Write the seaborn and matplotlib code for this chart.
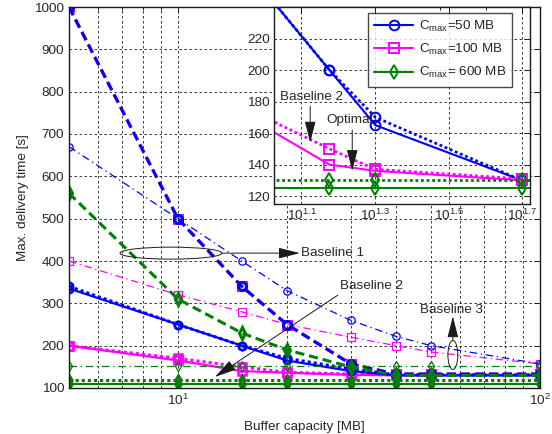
import numpy as np
import pandas as pd
import matplotlib
matplotlib.use("Agg")
import matplotlib.pyplot as plt
import seaborn as sns
from matplotlib.patches import Ellipse
from matplotlib.lines import Line2D
from matplotlib.ticker import FixedLocator, NullFormatter, LogLocator, FixedFormatter, MultipleLocator

# ---------------- data ----------------
buffer_mb = [5, 10, 15, 20, 30, 40, 50, 100]

blue_opt = [335, 250, 200, 165, 140, 130, 130, 130]
blue_b2 = [340, 250, 200, 170, 145, 131, 131, 131]
blue_b1 = [1000, 500, 340, 250, 157, 133, 133, 133]
blue_b3 = [670, 500, 400, 330, 260, 222, 200, 157]

pink_opt = [200, 165, 140, 136, 131, 130, 130, 130]
pink_b2 = [200, 170, 150, 137, 133, 131, 131, 131]
pink_b1 = [1000, 500, 340, 250, 157, 133, 133, 133]
pink_b3 = [400, 320, 280, 250, 220, 200, 185, 157]

green_opt = [110, 110, 110, 110, 110, 110, 110, 110]
green_b2 = [119, 119, 119, 119, 119, 119, 119, 119]
green_b1 = [560, 310, 230, 190, 150, 130, 130, 130]
green_b3 = [152, 152, 152, 152, 152, 152, 152, 152]

# zoomed inset
inset_mb = [10, 15, 20, 50, 100]
in_blue_opt = [250, 200, 165, 130, 130]
in_blue_b2 = [250, 200, 170, 130, 130]
in_pink_opt = [164, 140, 136, 130, 130]
in_pink_b2 = [170, 150, 137, 131, 131]
in_green_opt = [125, 125, 125, 125, 125]
in_green_b2 = [130, 130, 130, 130, 130]

legend_labels = ["C$_{\\rm max}$=50 MB", "C$_{\\rm max}$=100 MB", "C$_{\\rm max}$= 600 MB"]
inset_ticks = [1.1, 1.3, 1.5, 1.7]
inset_tick_labels = ["$10^{1.1}$", "$10^{1.3}$", "$10^{1.5}$", "$10^{1.7}$"]

# ---------------- style ----------------
sns.set_theme(style="white")
plt.rcParams["font.family"] = ["Liberation Sans", "DejaVu Sans"]
plt.rcParams["mathtext.fontset"] = "custom"
plt.rcParams["mathtext.rm"] = "Liberation Sans"
plt.rcParams["mathtext.default"] = "regular"
TXT = "#262626"

BLUE = "#0000FF"
PINK = "#FF00FF"
GREEN = "#008000"

fig = plt.figure(figsize=(5.52, 4.34), dpi=100)
ax = fig.add_axes([69 / 552, 1 - 388 / 434, 471 / 552, 381 / 434])


def draw(axis, x, y, color, ls, lw, marker, ms, mew, z=2):
    sns.lineplot(x=x, y=y, ax=axis, color=color, linestyle=ls, linewidth=lw,
                 marker=marker, markersize=ms, markerfacecolor="none",
                 markeredgecolor=color, markeredgewidth=mew, errorbar=None,
                 legend=False, zorder=z, sort=False)


series = [
    (PINK, "s", pink_opt, pink_b2, pink_b1, pink_b3),
    (BLUE, "o", blue_opt, blue_b2, blue_b1, blue_b3),
    (GREEN, "d", green_opt, green_b2, green_b1, green_b3),
]
for color, mk, opt, b2, b1, b3 in series:
    draw(ax, buffer_mb, b3, color, (0, (6, 3, 1, 3)), 0.9, mk, 5.3, 0.9)
    draw(ax, buffer_mb, b1, color, (0, (3, 1.6)), 2.2, mk, 5.8, 2.2)
    draw(ax, buffer_mb, b2, color, (0, (1, 1)), 2.2, mk, 5.3, 1.8)
    draw(ax, buffer_mb, opt, color, "-", 1.6, mk, 5.3, 1.8)

ax.set_xscale("log")
ax.set_xlim(5, 100)
ax.set_ylim(100, 1000)
ax.yaxis.set_major_locator(MultipleLocator(100))
ax.xaxis.set_major_locator(LogLocator(base=10))
ax.xaxis.set_minor_locator(LogLocator(base=10, subs=np.arange(2, 10)))
ax.xaxis.set_minor_formatter(NullFormatter())
ax.grid(True, which="both", axis="x", color="k", linestyle=(0, (3, 3)), linewidth=0.6)
ax.grid(True, which="major", axis="y", color="k", linestyle=(0, (3, 3)), linewidth=0.6)
ax.tick_params(which="both", direction="in", top=True, right=True, labelsize=9.7,
               colors="k", labelcolor=TXT, length=4, width=0.7)
ax.tick_params(which="minor", length=2.5)
for s in ax.spines.values():
    s.set_color("k")
    s.set_linewidth(1.0)
ax.set_xlabel("Buffer capacity [MB]", fontsize=9.7, color=TXT, labelpad=9)
ax.set_ylabel("Max. delivery time [s]", fontsize=9.7, color=TXT, labelpad=4)

# annotations (axes fractions)
ax.add_patch(Ellipse((0.2166, 0.354), 0.2166, 0.0315, transform=ax.transAxes,
                     fill=False, edgecolor="k", linewidth=0.7, zorder=5))
ax.annotate("", xy=(0.490, 0.354), xytext=(0.325, 0.354), xycoords="axes fraction",
            arrowprops=dict(arrowstyle="-|>,head_length=1.1,head_width=0.28", color="k",
                            lw=0.7, shrinkA=0, shrinkB=0), zorder=5)
ax.text(0.492, 0.354, "Baseline 1", transform=ax.transAxes, ha="left", va="center",
        fontsize=9.7, color=TXT, zorder=6)

ax.annotate("", xy=(0.310, 0.029), xytext=(0.571, 0.244), xycoords="axes fraction",
            arrowprops=dict(arrowstyle="-|>,head_length=1.1,head_width=0.28", color="k",
                            lw=0.7, shrinkA=0, shrinkB=0), zorder=5)
ax.text(0.575, 0.268, "Baseline 2", transform=ax.transAxes, ha="left", va="center",
        fontsize=9.7, color=TXT, zorder=6)

ax.add_patch(Ellipse((0.815, 0.0866), 0.021, 0.076, transform=ax.transAxes,
                     fill=False, edgecolor="k", linewidth=0.7, zorder=5))
ax.annotate("", xy=(0.815, 0.188), xytext=(0.815, 0.125), xycoords="axes fraction",
            arrowprops=dict(arrowstyle="-|>,head_length=1.1,head_width=0.28", color="k",
                            lw=0.7, shrinkA=0, shrinkB=0), zorder=5)
ax.text(0.813, 0.205, "Baseline 3", transform=ax.transAxes, ha="center", va="center",
        fontsize=9.7, color=TXT, zorder=6)

# ---------------- inset ----------------
axi = fig.add_axes([274 / 552, 1 - 204 / 434, 256 / 552, 197 / 434])
axi.set_facecolor("white")
inset_series = [
    (BLUE, "o", in_blue_opt, in_blue_b2),
    (PINK, "s", in_pink_opt, in_pink_b2),
    (GREEN, "d", in_green_opt, in_green_b2),
]
for color, mk, opt, b2 in inset_series:
    draw(axi, inset_mb, b2, color, (0, (1, 1)), 2.0, mk, 7, 1.4)
    draw(axi, inset_mb, opt, color, "-", 1.5, mk, 7, 1.4)

axi.set_xscale("log")
axi.set_xlim(10 ** 1.0255, 10 ** 1.721)
axi.set_ylim(115, 240)
axi.xaxis.set_major_locator(FixedLocator([10 ** t for t in inset_ticks]))
axi.xaxis.set_major_formatter(FixedFormatter(inset_tick_labels))
axi.xaxis.set_minor_locator(LogLocator(base=10, subs=np.arange(2, 10)))
axi.xaxis.set_minor_formatter(NullFormatter())
axi.yaxis.set_major_locator(FixedLocator([120, 140, 160, 180, 200, 220]))
axi.grid(True, which="major", color="k", linestyle=(0, (3, 3)), linewidth=0.6)
axi.tick_params(which="both", direction="in", top=True, right=True, labelsize=9.7,
                colors="k", labelcolor=TXT, length=4, width=0.7, pad=3)
axi.tick_params(which="minor", length=2.5)
for s in axi.spines.values():
    s.set_color("k")
    s.set_linewidth(1.0)

axi.annotate("", xy=(13.3, 154), xytext=(13.3, 177),
             arrowprops=dict(arrowstyle="-|>,head_length=1.1,head_width=0.28", color="k",
                             lw=0.7, shrinkA=0, shrinkB=0), zorder=5)
axi.text(13.4, 183, "Baseline 2", ha="center", va="center", fontsize=9.7, color=TXT, zorder=6)
axi.annotate("", xy=(17.3, 136), xytext=(17.3, 162),
             arrowprops=dict(arrowstyle="-|>,head_length=1.1,head_width=0.28", color="k",
                             lw=0.7, shrinkA=0, shrinkB=0), zorder=5)
axi.text(17.06, 168, "Optimal", ha="center", va="center", fontsize=9.7, color=TXT, zorder=6)

handles = [Line2D([], [], color=c, lw=1.5, marker=m, ms=7, mfc="none", mec=c, mew=1.4)
           for c, m in [(BLUE, "o"), (PINK, "s"), (GREEN, "d")]]
leg = axi.legend(handles, legend_labels, loc="upper right", bbox_to_anchor=(0.93, 0.97),
                 borderaxespad=0, fontsize=9.7, frameon=True, fancybox=False,
                 edgecolor="k", handlelength=2.9, handletextpad=0.4,
                 labelspacing=0.6, borderpad=0.45)
leg.get_frame().set_linewidth(1.0)
for t in leg.get_texts():
    t.set_color(TXT)

fig.savefig("out.png", dpi=100)
